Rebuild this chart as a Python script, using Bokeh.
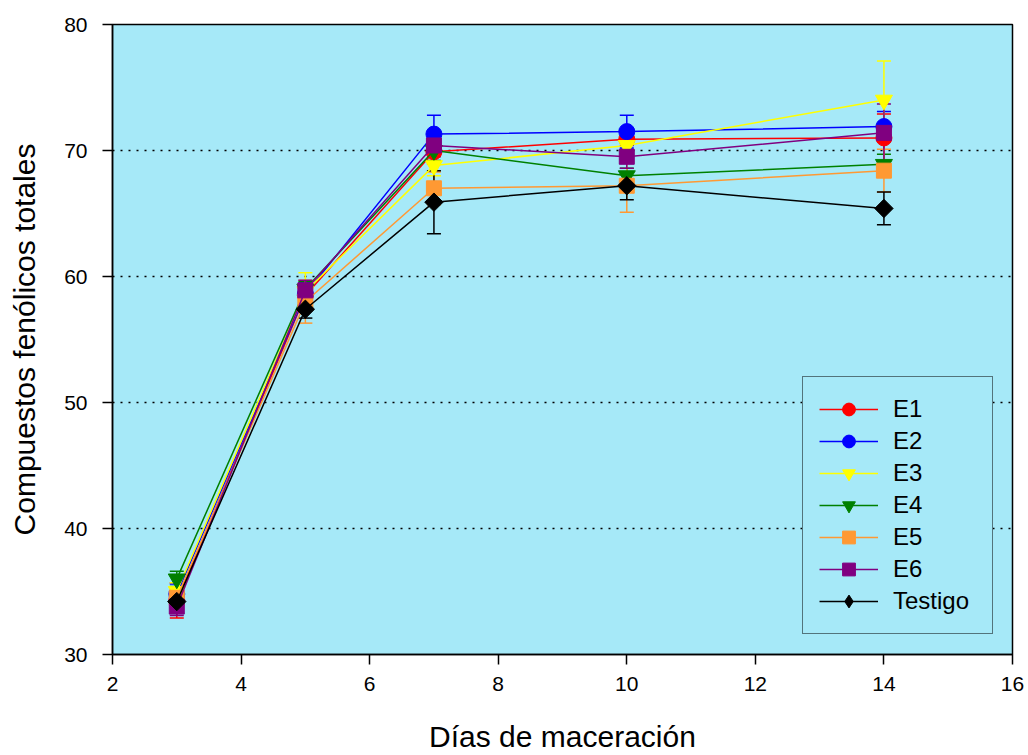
import numpy as np
from bokeh.plotting import figure
from bokeh.models import (Range1d, FixedTicker, Whisker, TeeHead, ColumnDataSource,
                          Legend, LegendItem)
from bokeh.embed import file_html
from bokeh.resources import INLINE

# Días de maceración
days = [3, 5, 7, 10, 14]

# Compuestos fenólicos totales por ensayo (media y desviación)
e1 = [34.3, 58.5, 69.9, 70.9, 71.0]
e1_err = [1.4, 1.0, 1.0, 0.8, 1.9]
e2 = [34.8, 58.6, 71.3, 71.5, 71.9]
e2_err = [0.8, 0.9, 1.5, 1.3, 1.2]
e3 = [35.0, 58.8, 68.8, 70.4, 74.0]
e3_err = [0.7, 1.5, 0.8, 0.9, 3.1]
e4 = [36.0, 59.0, 70.0, 68.0, 68.9]
e4_err = [0.6, 0.6, 0.8, 0.6, 0.8]
e5 = [34.5, 58.0, 67.0, 67.2, 68.4]
e5_err = [0.8, 1.7, 1.3, 2.1, 1.7]
e6 = [33.8, 58.9, 70.4, 69.5, 71.4]
e6_err = [0.7, 0.8, 0.9, 0.9, 2.3]
testigo = [34.2, 57.4, 65.9, 67.2, 65.4]
testigo_err = [0.5, 0.7, 2.5, 1.1, 1.3]

x_ticks = [2, 4, 6, 8, 10, 12, 14, 16]
y_ticks = [30, 40, 50, 60, 70, 80]

# name, values, errors, colour, marker, size, angle, legend marker
series = [
    ("E1", e1, e1_err, "#FF0000", "circle", 16, 0.0, None),
    ("E2", e2, e2_err, "#0000FF", "circle", 16, 0.0, None),
    ("E3", e3, e3_err, "#FFFF00", "inverted_triangle", 17, 0.0, None),
    ("E4", e4, e4_err, "#008000", "inverted_triangle", 17, 0.0, None),
    ("E5", e5, e5_err, "#FF9933", "square", 15, 0.0, None),
    ("E6", e6, e6_err, "#800080", "square", 15, 0.0, None),
    ("Testigo", testigo, testigo_err, "#000000", "square", 13, np.pi / 4, "diamond"),
]

FONT = "Liberation Sans"
BG = "#A6E9F8"

p = figure(width=1028, height=755, output_backend="svg", toolbar_location=None,
           x_range=Range1d(2, 16), y_range=Range1d(30, 80),
           min_border_left=112, min_border_right=16, min_border_top=24,
           min_border_bottom=101)

p.background_fill_color = BG
p.border_fill_color = "white"
p.outline_line_color = "black"
p.outline_line_width = 1.5

p.xgrid.visible = False
p.ygrid.grid_line_color = "black"
p.ygrid.grid_line_dash = "2 6"
p.ygrid.grid_line_width = 1.5

for ax in (p.xaxis[0], p.yaxis[0]):
    ax.axis_line_color = "black"
    ax.axis_line_width = 1.5
    ax.major_tick_line_color = "black"
    ax.major_tick_line_width = 1.5
    ax.major_tick_in = 0
    ax.major_tick_out = 10
    ax.minor_tick_line_color = None
    ax.major_label_text_font = FONT
    ax.major_label_text_font_size = "21px"
    ax.major_label_text_color = "black"
    ax.axis_label_text_font = FONT
    ax.axis_label_text_font_size = "30px"
    ax.axis_label_text_font_style = "normal"
    ax.axis_label_text_color = "black"

p.xaxis.ticker = FixedTicker(ticks=x_ticks)
p.yaxis.ticker = FixedTicker(ticks=y_ticks)
p.xaxis.axis_label = "Días de maceración"
p.yaxis.axis_label = "Compuestos fenólicos totales"
p.xaxis.major_label_standoff = 12
p.xaxis.axis_label_standoff = 26
p.yaxis.major_label_standoff = 15
p.yaxis.axis_label_standoff = 20

items = []
for name, vals, errs, color, marker, size, angle, leg_marker in series:
    src = ColumnDataSource(dict(
        x=days, y=vals,
        lo=[v - e for v, e in zip(vals, errs)],
        hi=[v + e for v, e in zip(vals, errs)],
    ))
    w = Whisker(source=src, base="x", upper="hi", lower="lo",
                line_color=color, line_width=1.5,
                upper_head=TeeHead(size=14, line_color=color, line_width=1.5),
                lower_head=TeeHead(size=14, line_color=color, line_width=1.5))
    p.add_layout(w)
    ln = p.line("x", "y", source=src, line_color=color, line_width=1.5)
    sc = p.scatter("x", "y", source=src, marker=marker, size=size, angle=angle,
                   fill_color=color, line_color=color, line_width=1)
    if leg_marker is None:
        items.append(LegendItem(label=name, renderers=[ln, sc]))
    else:
        # legend glyphs are drawn unrotated, so the key uses a diamond marker
        key = p.scatter("x", "y", source=src, marker=leg_marker, size=size,
                        fill_color=color, line_color=color, visible=False)
        items.append(LegendItem(label=name, renderers=[ln, key]))

legend = Legend(items=items, location=(690, 20))
legend.label_text_font = FONT
legend.label_text_font_size = "24px"
legend.label_text_color = "black"
legend.glyph_width = 59
legend.glyph_height = 32
legend.label_height = 26
legend.label_width = 83
legend.spacing = 0
legend.padding = 16
legend.margin = 0
legend.label_standoff = 15
legend.border_line_color = "black"
legend.border_line_width = 1.5
legend.background_fill_color = BG
legend.background_fill_alpha = 1.0
p.add_layout(legend, "center")

open("out.html", "w").write(file_html(p, INLINE))
